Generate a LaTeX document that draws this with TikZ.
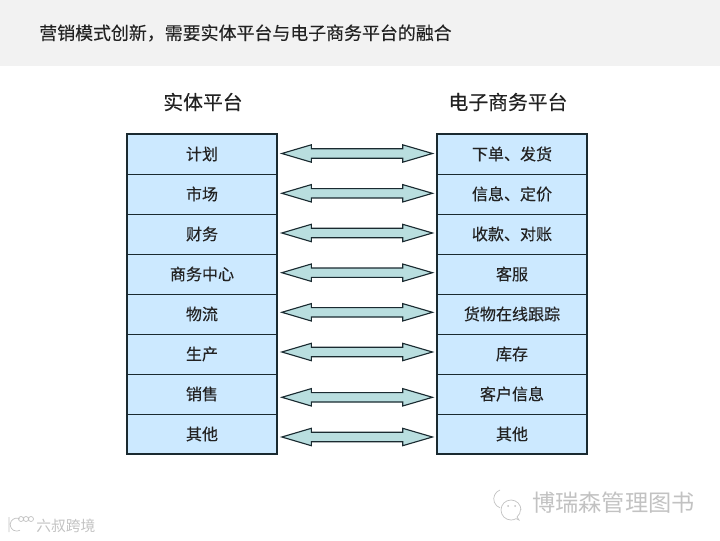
\documentclass[tikz,border=0pt]{standalone}
\usepackage{fontspec}
\setmainfont{Noto Sans CJK SC}[FakeBold=0.25]
\newfontfamily\markfont{Noto Sans CJK SC}
\usetikzlibrary{calc}
\definecolor{mBand}{HTML}{F2F2F2}
\definecolor{mBox}{HTML}{CCE9FF}
\definecolor{mLink}{HTML}{B9DEDF}
\definecolor{mEdge}{HTML}{1A2A30}
\definecolor{mText}{HTML}{222222}
\tikzset{
  rowbox/.style={draw=mEdge, line width=0.5pt, fill=mBox, minimum width=3.75cm, minimum height=1cm, inner sep=0pt, outer sep=0pt, text=mText, font=\fontsize{11.4}{12}\selectfont},
  colhead/.style={text=mText, font=\fontsize{14.1}{16}\selectfont},
  linkarrow/.style={draw=mEdge, line width=0.8pt, fill=mLink, line join=miter},
  stamp/.style={text=black!24, inner sep=0pt},
  stampline/.style={black!24, line width=0.5pt}
}
\begin{document}
\begin{tikzpicture}[x=0.025cm, y=0.025cm]
    \useasboundingbox (0,0) rectangle (720,540);
    % title band
    \fill[mBand] (0,474) rectangle (720,540);
    \node[anchor=west, inner sep=0pt, text=mText, font=\fontsize{12.75}{14}\selectfont] (title) at (39,507) {营销模式创新，需要实体平台与电子商务平台的融合};
    % columns
    \node[colhead] (headl) at (203,438) {实体平台};
    \node[colhead] (headr) at (508,438) {电子商务平台};
    \foreach \i/\la/\lb/\d in {1/计划/下单、发货/0.5, 2/市场/信息、定价/0.7, 3/财务/收款、对账/1, 4/商务中心/客服/1.3, 5/物流/货物在线跟踪/1.7, 6/生产/库存/2, 7/销售/客户信息/-3.3, 8/其他/其他/-3} {
      \node[rowbox] (l\i) at (202,426-40*\i) {\la};
      \node[rowbox] (r\i) at (512,426-40*\i) {\lb};
      \draw[linkarrow] ($(l\i.east)+(4.8,\d)$) -- ++(29.5,8.7) -- ++(0,-4) -- ($(r\i.west)+(-34.3,\d+4.7)$) -- ++(0,4)
        -- ($(r\i.west)+(-4.5,\d)$) -- ++(-29.8,-8.7) -- ++(0,4) -- ($(l\i.east)+(34.3,\d-4.7)$) -- ++(0,-4) -- cycle;
    }
    % outer frames
    \draw[line width=1.5pt, mEdge] (l1.north west) rectangle (l8.south east);
    \draw[line width=1.5pt, mEdge] (r1.north west) rectangle (r8.south east);
    % watermarks
    \node[stamp, anchor=west, font=\markfont\fontsize{16.5}{18}\selectfont] (markr) at (532,37) {博瑞森管理图书};
    \draw[stampline] (521,30) arc (0:300:10) -- (519,20) -- (517,23) arc (-50:0:10);
    \draw[stampline] (500,50) arc (110:250:9.5);
    \fill[black!24] (508,34) circle (1) (515,34) circle (1);
    \node[stamp, anchor=west, font=\markfont\fontsize{10.5}{12}\selectfont] (markl) at (36,14) {六叔跨境};
    \draw[stampline] (20,21) arc (60:300:6.5) (9,23) -- (9,8);
    \draw[stampline] (21,21) circle (2.5) (26,21) circle (2.5) (31,21) circle (2.5);
\end{tikzpicture}
\end{document}
